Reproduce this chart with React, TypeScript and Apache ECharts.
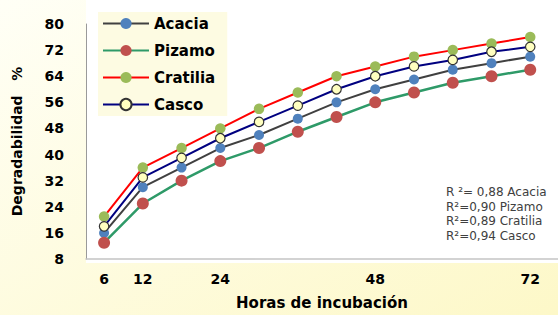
import React, { useEffect, useRef } from 'react';
import * as echarts from 'echarts';

const hours = [6, 12, 18, 24, 30, 36, 42, 48, 54, 60, 66, 72];
const acacia = [16, 30, 36, 42, 46, 51, 56, 60, 63, 66, 68, 70];
const pizamo = [13, 25, 32, 38, 42, 47, 51.5, 56, 59, 62, 64, 66];
const cratilia = [21, 36, 42, 48, 54, 59, 64, 67, 70, 72, 74, 76];
const casco = [18, 33, 39, 45, 50, 55, 60, 64, 67, 69, 71.5, 73];
const xTickLabels = [6, 12, 24, 48, 72];
const r2Lines = ['R ²= 0,88 Acacia', 'R²=0,90 Pizamo', 'R²=0,89 Cratilia', 'R²=0,94 Casco'];

const FONT = '"DejaVu Sans", "Noto Sans", sans-serif';

const pairs = (ys: number[]) => hours.map((h, i) => [h, ys[i]]);

export default function App() {
  const ref = useRef<HTMLDivElement>(null);
  useEffect(() => {
    if (!ref.current) return;
    const chart = echarts.init(ref.current, undefined, { renderer: 'svg' });
    const mk = (name: string, ys: number[], line: string, lw: number, fill: string, size: number, border?: string) => ({
      name,
      type: 'line',
      data: pairs(ys),
      symbol: 'circle',
      symbolSize: size,
      lineStyle: { color: line, width: lw },
      itemStyle: border
        ? { color: fill, borderColor: border, borderWidth: 1.2 }
        : { color: fill, borderWidth: 0 },
      z: 3,
    });
    chart.setOption({
      animation: false,
      backgroundColor: {
        type: 'linear', x: 0, y: 0, x2: 1, y2: 1,
        colorStops: [
          { offset: 0, color: '#fffff6' },
          { offset: 1, color: '#fdf8c8' },
        ],
      },
      graphic: [
        {
          type: 'rect', z: -10, silent: true,
          shape: { x: 86, y: 0, width: 472, height: 263 },
          style: { fill: '#ffffff' },
        },
        ...r2Lines.map((t, i) => ({
          type: 'text', z: 10,
          x: 446, y: 192 + i * 14.6,
          style: { text: t, font: `12px ${FONT}`, fill: '#404040', verticalAlign: 'middle', align: 'left' },
        })),
      ],
      legend: {
        orient: 'vertical',
        left: 98,
        top: 12,
        padding: [4, 12, 4, 4],
        backgroundColor: '#fdfbe2',
        itemWidth: 46,
        itemHeight: 14,
        itemGap: 12,
        textStyle: { fontFamily: FONT, fontWeight: 'bold', fontSize: 15, color: '#000', lineHeight: 14 },
        data: ['Acacia', 'Pizamo', 'Cratilia', 'Casco'],
      },
      grid: { left: 86, right: 0, top: 24, bottom: 52, containLabel: false },
      xAxis: {
        type: 'value',
        min: 3.2,
        max: 76.3,
        name: 'Horas de incubación',
        nameLocation: 'middle',
        nameGap: 36,
        nameTextStyle: { fontFamily: FONT, fontWeight: 'bold', fontSize: 15, color: '#000' },
        axisLine: { show: true, lineStyle: { color: '#c4c4c4', width: 1.5 } },
        axisTick: { show: false },
        splitLine: { show: false },
        axisLabel: {
          customValues: xTickLabels,
          fontFamily: FONT, fontWeight: 'bold', fontSize: 14, color: '#000', margin: 13,
        },
      },
      yAxis: {
        type: 'value',
        min: 8,
        max: 80,
        interval: 8,
        name: 'Degradabilidad   %',
        nameLocation: 'middle',
        nameGap: 62,
        nameTextStyle: { fontFamily: FONT, fontWeight: 'bold', fontSize: 14, color: '#000' },
        axisLine: { show: true, lineStyle: { color: '#9a9a9a', width: 1 } },
        axisTick: { show: false },
        splitLine: { show: false },
        axisLabel: { fontFamily: FONT, fontWeight: 'bold', fontSize: 14, color: '#000', margin: 22 },
      },
      series: [
        mk('Acacia', acacia, '#404040', 2, '#4f81bd', 10),
        mk('Pizamo', pizamo, '#2e9a68', 2.5, '#c0504d', 12),
        mk('Cratilia', cratilia, '#ff0000', 2, '#9bbb59', 10.5),
        mk('Casco', casco, '#000080', 2, '#ffffc0', 9.5, '#333333'),
      ],
    });
    return () => chart.dispose();
  }, []);
  return <div ref={ref} style={{ position: 'fixed', left: 0, top: 0, width: 558, height: 315 }} />;
}
